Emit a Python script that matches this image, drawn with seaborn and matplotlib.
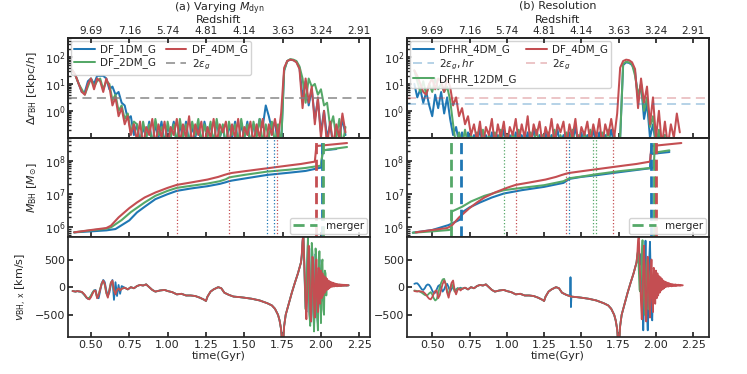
import numpy as np
import pandas as pd
import seaborn as sns
import matplotlib.pyplot as plt
from matplotlib.lines import Line2D

c_blue = '#1f77b4'
c_green = '#55a868'
c_red = '#c44e52'

time_ticks = [0.5, 0.75, 1.0, 1.25, 1.5, 1.75, 2.0, 2.25]
redshift_labels = ['9.69', '7.16', '5.74', '4.81', '4.14', '3.63', '3.24', '2.91']

eps_g = 2.9
eps_g_hr = 1.8

# log10 of the BH offset, one value every 0.02 Gyr from 0.38 Gyr
dr_start, dr_step = 0.38, 0.02
dr_df4 = [1.5, 1.3, 1.0, 0.7, 0.6, 1.0, 1.2, 0.8, 1.2, 1.1, 0.7, 1.2, 0.9, 0.2, 0.5, -0.2, 0.1, -0.5, -0.2, -0.9, -0.5,
          -1.1, -0.4, -1.3, -0.6, -0.9, -0.3, -1.3, -0.5, -1.0, -0.4,
          -1.3, -0.6, -0.9, -0.3, -1.2, -0.5, -1.0, -0.2, -1.3, -0.5,
          -0.9, -0.4, -1.3, -0.6, -1.0, -0.3, -1.2, -0.5, -0.8, -0.4,
          -1.3, -0.5, -1.0, -0.3, -1.3, -0.6, -0.9, -0.4, -1.2, -0.5,
          -1.0, -0.3, -1.3, -0.5, -0.9, -0.3, -1.0,
          -0.1, 1.6, 1.85, 1.9, 1.88, 1.8, 1.55, 0.1, 1.2, 0.3, 0.9, -0.5, 0.5, -1.0, 0.0, -1.3, -0.4, -1.3,
          -0.5, -1.0, -0.1, -0.8]
dr_df2 = [1.5, 1.3, 1.0, 0.8, 0.6, 0.9, 1.2, 0.9, 1.1, 1.2, 0.8, 1.1, 1.0, 0.4, 0.6, 0.0, 0.2, -0.3, -0.1, -0.8, -0.4,
          -0.5, -1.3, -0.4, -1.0, -0.5, -1.3, -0.3, -0.9, -0.6, -1.3,
          -0.4, -1.0, -0.5, -1.2, -0.3, -1.0, -0.5, -1.3, -0.4, -0.9,
          -0.3, -1.2, -0.5, -1.0, -0.4, -1.3, -0.3, -1.0, -0.5, -1.3,
          -0.4, -0.9, -0.5, -1.2, -0.3, -1.0, -0.5, -1.3, -0.4, -1.0,
          -0.3, -1.2, -0.5, -1.0, -0.4, -1.2, -0.5,
          -1.3, 1.5, 1.85, 1.92, 1.9, 1.85, 1.65, 1.2, 0.3, 1.2, 0.9, 1.0, 0.6, 0.8, 0.2, 0.3, -0.6, -0.2,
          -1.0, -0.3, -1.3, -0.6]
dr_df1 = [1.5, 1.3, 1.0, 0.7, 0.7, 1.1, 1.2, 1.0, 1.3, 1.3, 1.3, 1.2, 0.8, 0.9, 0.6, 0.7, 0.3, 0.2, -0.3, -0.2, -0.9,
          -0.5, -1.2, -0.6, -1.0, -0.4, -1.3, -0.5, -1.0, -0.4, -1.2,
          -0.6, -0.9, -0.4, -1.3, -0.5, -1.0, -0.4, -1.2, -0.6, -1.0,
          -0.5, -1.3, -0.4, -0.9, -0.5, -1.2, -0.4, -1.0, -0.6, -1.3,
          -0.5, -1.0, -0.4, -1.2, -0.5, -1.0, -0.4, -1.3, -0.5, -0.9,
          -0.3, -0.6, 0.2, -0.2, -0.7, -0.4, -1.3,
          -1.3, 1.5, 1.85, 1.9, 1.88, 1.82, 1.6, 0.5, 1.1, 0.2, 0.8, -0.3, 0.4, -0.8, 0.0, -1.0, -0.5, -1.3,
          -0.6, -1.0, -0.3, -0.9]
dr_hr4 = [1.0, 0.5, 0.8, 0.3, 0.7, 0.2, -0.2, 0.6, 0.1, 0.7, -0.1, 0.5, -0.3, -0.9, -0.6, -1.2, -0.8,
          -1.3, -0.8, -1.3, -0.9, -1.2, -0.7, -1.3, -0.9, -1.3, -0.8,
          -1.2, -0.9, -1.3, -0.7, -1.3, -0.9, -1.3, -0.8, -1.2, -0.9,
          -1.3, -0.8, -1.3, -0.7, -1.2, -0.9, -1.3, -0.8, -1.3, -0.9,
          -1.2, -0.7, -1.3, -0.9, -1.3, -0.8, -1.2, -0.6, -1.3, -0.8,
          -1.3, -0.9, -1.2, -0.7, -1.3, -0.8, -1.3, -0.9, -1.2, -0.7,
          -1.3, -1.3,
          -1.0, 1.7, 1.8, 1.78, 1.7, 1.45, 0.4, 1.0, -0.3, 0.3, -1.0, -0.5, -1.3, -0.8, -1.3, -0.9]
dr_hr12 = [1.5, 1.1, 0.7, 1.1, 0.6, 1.0, 0.7, 1.2, 0.8, 1.0, 0.7, 0.9, 0.4, -0.5,
           -1.3, -0.8, -1.3, -0.7, -1.3, -0.9, -1.2, -0.8, -1.3, -0.7,
           -1.3, -0.9, -1.3, -0.8, -1.2, -0.7, -1.3, -0.9, -1.3, -0.8,
           -1.2, -0.7, -1.3, -0.9, -1.3, -0.8, -1.2, -0.7, -1.3, -0.9,
           -1.3, -0.8, -1.2, -0.7, -1.3, -0.9, -1.3, -0.8, -1.2, -0.7,
           -1.3, -0.9, -1.3, -0.8, -1.2, -0.7, -1.3, -0.9, -1.3, -0.8,
           -1.2, -0.7, -1.3, -0.9, -1.3,
           -1.0, 1.75, 1.82, 1.8, 1.72, 1.3, 0.6, 1.0, 0.0, 0.5, -0.6, -0.2, -1.3, -0.7, -1.3, -0.9]

# log10 of the BH mass (time, value) knots
m_df4_t = [0.39, 0.50, 0.60, 0.63, 0.68, 0.75, 0.80, 0.85, 0.92, 1.00, 1.06, 1.15, 1.26, 1.33, 1.37, 1.40,
           1.42, 1.50, 1.65, 1.80, 1.87, 1.96, 1.97, 2.17]
m_df4 = [5.85, 5.92, 5.98, 6.05, 6.30, 6.58, 6.75, 6.90, 7.05, 7.19, 7.28, 7.35, 7.44, 7.52, 7.58, 7.62,
         7.64, 7.69, 7.78, 7.87, 7.91, 7.98, 8.45, 8.54]
m_df2_t = [0.39, 0.50, 0.60, 0.63, 0.70, 0.76, 0.85, 0.92, 1.00, 1.06, 1.15, 1.26, 1.34, 1.38, 1.40, 1.42,
           1.50, 1.65, 1.80, 1.90, 2.00, 2.012, 2.17]
m_df2 = [5.85, 5.91, 5.96, 6.00, 6.22, 6.46, 6.75, 6.95, 7.10, 7.19, 7.25, 7.32, 7.39, 7.45, 7.50, 7.52,
         7.58, 7.68, 7.74, 7.79, 7.86, 8.32, 8.42]
m_df1_t = [0.39, 0.50, 0.60, 0.66, 0.75, 0.80, 0.85, 0.92, 1.00, 1.06, 1.15, 1.26, 1.34, 1.38, 1.40, 1.42,
           1.50, 1.65, 1.80, 1.90, 2.00, 2.012, 2.10]
m_df1 = [5.85, 5.88, 5.91, 5.95, 6.21, 6.45, 6.62, 6.85, 7.00, 7.10, 7.17, 7.24, 7.31, 7.36, 7.39, 7.41,
         7.47, 7.58, 7.65, 7.70, 7.80, 8.32, 8.36]
m_hr4_t = [0.37, 0.50, 0.61, 0.68, 0.695, 0.70, 0.75, 0.82, 0.90, 0.98, 1.10, 1.25, 1.38, 1.42, 1.50, 1.60,
           1.75, 1.96, 1.965, 2.09]
m_hr4 = [5.84, 5.92, 6.07, 6.22, 6.28, 6.45, 6.60, 6.75, 6.90, 7.02, 7.12, 7.22, 7.34, 7.46, 7.52, 7.57,
         7.66, 7.78, 8.21, 8.27]
m_hr12_t = [0.37, 0.50, 0.61, 0.628, 0.632, 0.70, 0.76, 0.85, 0.98, 1.10, 1.25, 1.38, 1.42, 1.50, 1.60, 1.75,
            1.985, 1.99, 2.09]
m_hr12 = [5.84, 5.88, 5.92, 5.94, 6.48, 6.62, 6.78, 6.95, 7.12, 7.19, 7.27, 7.39, 7.48, 7.53, 7.60, 7.69,
          7.80, 8.25, 8.32]

# BH events: dotted = close passages, dashed = mergers
dot_left = {c_red: [1.06, 1.40, 1.715], c_blue: [1.646, 1.696]}
merge_left = {c_red: [1.969], c_blue: [2.010], c_green: [2.015]}
dot_right = {c_green: [0.979, 1.581, 1.599], c_red: [1.06, 1.40, 1.715], c_blue: [1.42]}
merge_right = {c_green: [0.629, 1.989], c_blue: [0.696, 1.965], c_red: [2.0]}

# x-velocity: early part every 0.01 Gyr from 0.38
v_early_start = 0.38
v_early_df4 = [-70, -75, -80, -70, -75, -80, -85, -110, -140, -180, -210, -220, -180, -120, -70, -60, -200,
               -150, -40, 60, 120, 60, -100, -190, -60, 80, 120, -50, -130, -50, -20, -60, -30]
v_early_df2 = [-70, -75, -80, -72, -75, -82, -88, -115, -150, -185, -200, -190, -150, -100, -60, -80, -190,
               -130, -30, 70, 110, 40, -110, -170, -40, 90, 100, -70, -110, -40, -30, -50, -30]
v_early_df1 = [-70, -75, -80, -70, -78, -80, -90, -120, -150, -190, -210, -200, -160, -100, -60, -50, -180,
               -200, -60, 70, 130, 90, -60, -150, -100, 50, 130, -230, 90, -160, 40, -120, 20]
v_early_hr4 = [60, 70, 70, 40, 0, -40, -50, -20, 30, 50, 40, 0, -60, -110, -100, -40, 20, 40, -20, -80, -40,
               30, 60, 0, -80, -30, 20, -40, -60, -20, -30, -10, -30]
v_early_hr12 = [-60, -65, -70, -75, -85, -100, -120, -140, -150, -140, -110, -90, -130, -200, -240, -220,
                -120, 0, 80, 140, 150, 60, -80, -120, -20, 60, 0, -80, -40, -20, -40, -20, -30]
# shared smooth orbit
v_mid_t = [0.72, 0.74, 0.76, 0.78, 0.80, 0.82, 0.84, 0.86, 0.88, 0.90, 0.92, 0.95, 0.98, 1.00, 1.03, 1.06,
           1.09, 1.12, 1.15, 1.18, 1.21, 1.24, 1.25, 1.26, 1.28, 1.30, 1.33, 1.35, 1.37, 1.40, 1.43, 1.47,
           1.50, 1.55, 1.60, 1.65, 1.68, 1.70, 1.72, 1.73, 1.74, 1.745, 1.755, 1.76, 1.77, 1.79, 1.81, 1.83,
           1.85, 1.87]
v_mid = [-10, -40, 0, -20, 20, 40, 30, 50, 0, -50, -80, -60, -50, -70, -90, -130, -120, -150, -150, -160,
         -190, -230, -250, -170, -80, -40, 0, -20, -100, -140, -170, -180, -190, -210, -240, -290, -330, -390,
         -500, -600, -760, -950, -950, -700, -500, -300, -100, 80, 250, 450]
v_spike_hr4_t = [1.424, 1.427, 1.430, 1.433]
v_spike_hr4 = [-160, 180, -360, -170]
# late oscillation, every 0.005 Gyr from 1.875
v_late_start = 1.875
v_late_df4 = [600, 850, 950, 500, 100, -300, -580, -200, 400, 750, 300, -400, -620, -100, 550, 400, -300,
              -550, 100, 500, -200, -450, 350, 250, -300, 300, -200, 250, -150, 200, -100, 180, -60, 150,
              -40, 120, -20, 100, 0, 90, 10, 80, 10, 70, 20, 60, 15, 55, 20, 50, 20, 50, 20, 45, 25, 45, 25,
              40, 25, 40, 30, 35]
v_late_df2 = [550, 800, 950, 600, 0, -400, -100, 500, 900, 200, -500, -700, 0, 800, 600, -400, -800, -200,
              700, 500, -500, -780, 200, 650, -200, -650, 400, 500, -400, -500, 300, 250, -150, 120, -20, 100,
              10, 80, 20, 70, 15, 60, 20, 55, 20, 50, 25, 50, 20, 45, 25, 45, 25, 40, 25, 40, 30, 40, 30, 35,
              30, 35]
v_late_df1 = [580, 820, 950, 550, 50, -350, -450, 300, 800, 350, -450, -650, -50, 700, 450, -450, -700, 0,
              600, 350, -500, -650, 300, 500, -300, -400, 350, 200, -250, 150, -100, 120, -50, 90, 0, 80, 10,
              70, 20, 60, 20, 55, 20, 50, 25, 50, 25, 45, 25, 45, 25, 40, 30, 40, 30, 40, 30, 35, 30, 35, 30,
              35]
v_late_hr4 = [550, 620, 650, 400, 500, 600, 200, -400, -780, -300, 400, 840, 300, -500, -780, -200, 500, 820,
              200, -400, -600, -100, 200, 100, -100, 0, 50, -30, 40, 0, 30, 10, 40, 10, 30, 20, 40, 20, 30, 20,
              35, 25, 30, 25]
v_late_hr12 = [600, 650, 300, -50, -80, 200, 600, 850, 400, -200, -500, -200, 300, 500, 0, -400, -300, 200,
               300, -100, -200, 50, 100, -50, 30, 50, 0, 40, 10, 40, 20, 35, 15, 40, 20, 35, 20, 30, 25, 35,
               25, 30, 25, 30]


def dr_frame(vals):
    t = dr_start + dr_step * np.arange(len(vals))
    return pd.DataFrame({'t': t, 'dr': 10 ** np.array(vals)})


def vel_frame(early, late, extra_t=(), extra_v=()):
    t = np.concatenate([v_early_start + 0.01 * np.arange(len(early)), v_mid_t, extra_t,
                        v_late_start + 0.005 * np.arange(len(late))])
    v = np.concatenate([early, v_mid, extra_v, late])
    df = pd.DataFrame({'t': t, 'v': v})
    return df.sort_values('t')


def line(ax, df, y, color, lw=1.3):
    sns.lineplot(data=df, x='t', y=y, ax=ax, color=color, lw=lw, estimator=None, sort=False, legend=False)
    return ax.lines[-1]


sns.set_theme(style='ticks', rc={'xtick.direction': 'in', 'ytick.direction': 'in',
                                 'font.size': 8, 'axes.labelsize': 8, 'axes.titlesize': 8.5,
                                 'xtick.labelsize': 8, 'ytick.labelsize': 8, 'legend.fontsize': 7.5,
                                 'xtick.major.size': 3.5, 'ytick.major.size': 3.5,
                                 'xtick.minor.size': 2, 'ytick.minor.size': 2})

fig, axes = plt.subplots(3, 2, figsize=(7.47, 3.74), dpi=100, sharex='col')
fig.subplots_adjust(left=0.091, right=0.949, top=0.898, bottom=0.099, hspace=0, wspace=0.122)

panels = [
    dict(title=r'(a) Varying $M_{\rm dyn}$', xlim=(0.35, 2.32),
         dr=[(dr_df1, c_blue, 'DF_1DM_G'), (dr_df2, c_green, 'DF_2DM_G'), (dr_df4, c_red, 'DF_4DM_G')],
         m=[(m_df1_t, m_df1, c_blue), (m_df2_t, m_df2, c_green), (m_df4_t, m_df4, c_red)],
         v=[(vel_frame(v_early_df1, v_late_df1), c_blue), (vel_frame(v_early_df2, v_late_df2), c_green),
            (vel_frame(v_early_df4, v_late_df4), c_red)],
         dots=dot_left, merges=merge_left),
    dict(title='(b) Resolution', xlim=(0.33, 2.355),
         dr=[(dr_hr4, c_blue, 'DFHR_4DM_G'), (dr_hr12, c_green, 'DFHR_12DM_G'), (dr_df4, c_red, 'DF_4DM_G')],
         m=[(m_hr4_t, m_hr4, c_blue), (m_hr12_t, m_hr12, c_green), (m_df4_t, m_df4, c_red)],
         v=[(vel_frame(v_early_hr4, v_late_hr4, v_spike_hr4_t, v_spike_hr4), c_blue),
            (vel_frame(v_early_hr12, v_late_hr12), c_green),
            (vel_frame(v_early_df4, v_late_df4), c_red)],
         dots=dot_right, merges=merge_right),
]

for col, p in enumerate(panels):
    ax_dr, ax_m, ax_v = axes[:, col]

    # offset panel
    handles = {}
    for vals, color, name in p['dr']:
        handles[name] = line(ax_dr, dr_frame(vals), 'dr', color, lw=1.45)
    ax_dr.set_yscale('log')
    ax_dr.set_ylim(0.1, 500)
    ax_dr.set_yticks([1, 10, 100])
    if col == 0:
        h_eps = ax_dr.axhline(eps_g, color='gray', ls='--', lw=1.3, alpha=0.8, dashes=(5, 3))
        leg_h = [handles['DF_1DM_G'], handles['DF_2DM_G'], handles['DF_4DM_G'], h_eps]
        leg_l = ['DF_1DM_G', 'DF_2DM_G', 'DF_4DM_G', r'$2\varepsilon_g$']
    else:
        h_hr = ax_dr.axhline(eps_g_hr, color=c_blue, ls='--', lw=1.3, alpha=0.35, dashes=(5, 3))
        h_eps = ax_dr.axhline(eps_g, color=c_red, ls='--', lw=1.3, alpha=0.35, dashes=(5, 3))
        leg_h = [handles['DFHR_4DM_G'], h_hr, handles['DFHR_12DM_G'], handles['DF_4DM_G'], h_eps]
        leg_l = ['DFHR_4DM_G', r'$2\varepsilon_g, hr$', 'DFHR_12DM_G', 'DF_4DM_G', r'$2\varepsilon_g$']
    ax_dr.legend(leg_h, leg_l, ncol=2, loc='upper left', handlelength=2.0, columnspacing=0.9,
                 borderpad=0.3, labelspacing=0.2, handletextpad=0.5, borderaxespad=0.3, framealpha=0.85)

    # redshift axis on top
    top = ax_dr.twiny()
    top.set_xlim(p['xlim'])
    top.set_xticks(time_ticks)
    top.set_xticklabels(redshift_labels)
    top.tick_params(axis='x', which='both', direction='in', pad=1.5, length=3.5, labelsize=7.5,
                    top=True, labeltop=True, bottom=False, labelbottom=False)
    top.set_xlabel('Redshift', fontsize=8)
    top.xaxis.set_label_coords(0.5, 1.148)
    pos = ax_dr.get_position()
    fig.text((pos.x0 + pos.x1) / 2, 1 - 0.5 / 374, p['title'], ha='center', va='top', fontsize=8)

    # mass panel
    for t, lm, color in p['m']:
        line(ax_m, pd.DataFrame({'t': t, 'm': 10 ** np.array(lm)}), 'm', color, lw=1.5)
    for color, xs in p['dots'].items():
        for x in xs:
            ax_m.axvline(x, color=color, ls=':', lw=0.9)
    for color, xs in p['merges'].items():
        for x in xs:
            ax_m.axvline(x, color=color, ls='--', lw=2.0, dashes=(4, 2))
    ax_m.set_yscale('log')
    ax_m.set_ylim(5e5, 5e8)
    ax_m.set_yticks([1e6, 1e7, 1e8])
    ax_m.legend([Line2D([], [], color=c_green, ls='--', lw=2.0, dashes=(4, 2))], ['merger'],
                loc='lower right', handlelength=2.3, borderpad=0.3, borderaxespad=0.3, framealpha=0.85)

    # velocity panel
    for df, color in p['v']:
        line(ax_v, df, 'v', color, lw=1.3)
    ax_v.set_ylim(-900, 900)
    ax_v.set_yticks([-500, 0, 500])
    ax_v.set_xlim(p['xlim'])
    ax_v.set_xticks(time_ticks)
    ax_v.set_xticklabels([f'{x:.2f}' for x in time_ticks])
    ax_v.set_xlabel('time(Gyr)', labelpad=1)

    for ax in (ax_dr, ax_m, ax_v):
        ax.set_ylabel('')
        ax.tick_params(axis='both', which='both', direction='in', pad=2)
        if ax is not ax_v:
            ax.set_xlabel('')

axes[0, 0].set_ylabel(r'$\Delta r_{\rm BH}$ [ckpc/$h$]')
axes[1, 0].set_ylabel(r'$M_{\rm BH}$ [$M_{\odot}$]')
axes[2, 0].set_ylabel(r'$v_{\rm BH,\,x}$ [km/s]')

fig.savefig('out.png', dpi=100)
